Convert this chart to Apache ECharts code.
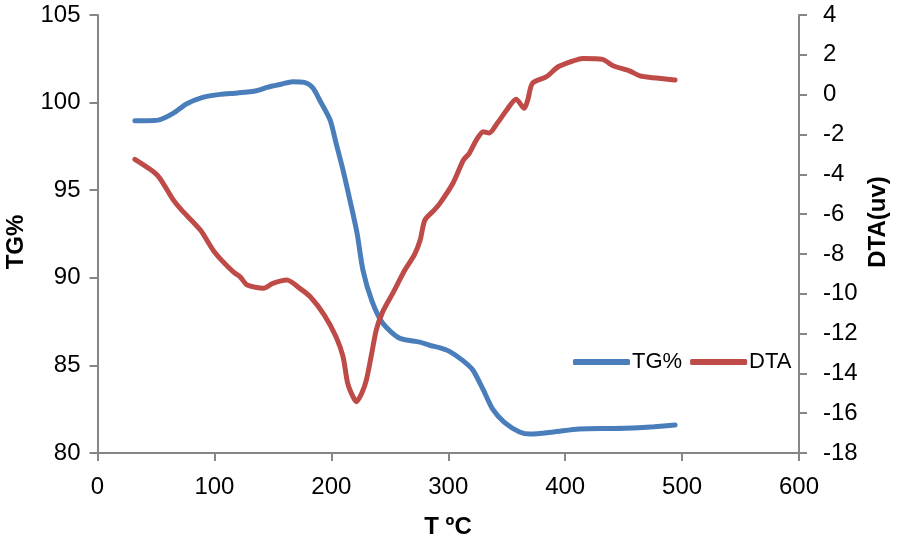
<!DOCTYPE html>
<html>
<head>
<meta charset="utf-8">
<script src="https://cdn.jsdelivr.net/npm/echarts@6/dist/echarts.min.js"></script>
<style>
html,body{margin:0;padding:0;background:#fff;}
#c{width:898px;height:547px;}
</style>
</head>
<body>
<div id="c"></div>
<script>
// TG% curve
var tgT = [32, 40, 52, 65, 76, 90, 105, 120, 136, 145, 157, 167, 177, 184, 190, 199, 204, 210, 216, 222, 227, 234.6, 244, 258.5, 275.6, 284, 293, 301, 312, 321, 330, 338, 348, 361, 370, 390, 412, 440, 458, 476, 494];
var tgV = [98.97, 98.97, 99.0, 99.4, 99.92, 100.3, 100.47, 100.55, 100.68, 100.87, 101.05, 101.19, 101.15, 100.85, 100.15, 99.0, 97.7, 96.15, 94.4, 92.55, 90.45, 88.7, 87.4, 86.55, 86.33, 86.15, 86.0, 85.8, 85.3, 84.74, 83.6, 82.5, 81.75, 81.2, 81.08, 81.2, 81.37, 81.4, 81.43, 81.5, 81.6];
// DTA curve
var dtaT = [32, 45, 51, 56, 65, 72, 88, 100, 116, 122, 128, 142, 150, 162, 173, 182, 194, 204, 210, 214, 218.5, 221.5, 226, 230, 234.6, 238.5, 244, 252.6, 263, 271, 276, 280, 288, 293, 304, 313, 318, 324, 330, 335, 342, 350, 358, 365, 368, 372, 384, 394, 407, 415, 432, 441, 455, 464, 475, 494];
var dtaV = [-3.25, -3.75, -4.04, -4.44, -5.3, -5.8, -6.8, -7.9, -8.9, -9.15, -9.56, -9.73, -9.48, -9.31, -9.73, -10.15, -11.07, -12.16, -13.16, -14.5, -15.17, -15.42, -15.0, -14.33, -12.98, -11.8, -10.9, -9.97, -8.8, -8.05, -7.3, -6.3, -5.8, -5.45, -4.45, -3.28, -2.95, -2.28, -1.86, -1.93, -1.43, -0.77, -0.23, -0.69, -0.27, 0.57, 0.9, 1.4, 1.7, 1.82, 1.77, 1.45, 1.19, 0.94, 0.85, 0.74];

var seriesNames = ['TG%', 'DTA'];
var xTitle = 'T ºC';
var yLeftTitle = 'TG%';
var yRightTitle = 'DTA(uv)';

function pairs(xs, ys){ return xs.map(function(x,i){ return [x, ys[i]]; }); }

var FONT = 'Liberation Sans';
var axisCol = '#868686';
var chart = echarts.init(document.getElementById('c'));
chart.setOption({
  animation: false,
  backgroundColor: '#fff',
  textStyle: {fontFamily: FONT},
  grid: {left: 97.5, right: 99, top: 15, bottom: 94},
  legend: {
    left: 568, top: 346,
    itemWidth: 57, itemHeight: 6, itemGap: 8,
    icon: 'roundRect',
    textStyle: {fontSize: 22, color: '#000', fontFamily: FONT, padding: [0,0,0,-3]},
    data: seriesNames
  },
  xAxis: {
    type: 'value', min: 0, max: 600, interval: 100,
    axisLine: {onZero: false, lineStyle: {color: axisCol, width: 2}},
    axisTick: {show: true, length: 8, lineStyle: {color: axisCol, width: 2}},
    axisLabel: {fontSize: 24, color: '#000', margin: 22, fontFamily: FONT},
    splitLine: {show: false}
  },
  yAxis: [{
    type: 'value', min: 80, max: 105, interval: 5,
    axisLine: {show: true, onZero: false, lineStyle: {color: axisCol, width: 2}},
    axisTick: {show: true, length: 8, lineStyle: {color: axisCol, width: 2}},
    axisLabel: {fontSize: 24, color: '#000', margin: 17, fontFamily: FONT},
    splitLine: {show: false}
  }, {
    type: 'value', min: -18, max: 4, interval: 2, position: 'right',
    axisLine: {show: true, onZero: false, lineStyle: {color: axisCol, width: 2}},
    axisTick: {show: true, length: 8, lineStyle: {color: axisCol, width: 2}},
    axisLabel: {fontSize: 24, color: '#000', margin: 24, fontFamily: FONT},
    splitLine: {show: false}
  }],
  graphic: [
    {type: 'text', x: 16, y: 242, rotation: Math.PI/2, style: {text: yLeftTitle, font: 'bold 24px "' + FONT + '"', fill: '#000', align: 'center', verticalAlign: 'middle'}},
    {type: 'text', x: 878, y: 222, rotation: Math.PI/2, style: {text: yRightTitle, font: 'bold 24px "' + FONT + '"', fill: '#000', align: 'center', verticalAlign: 'middle'}},
    {type: 'text', x: 448, y: 527, style: {text: xTitle, font: 'bold 24px "' + FONT + '"', fill: '#000', align: 'center', verticalAlign: 'middle'}}
  ],
  series: [{
    name: seriesNames[0], type: 'line', yAxisIndex: 0, smooth: 0.25, showSymbol: false,
    data: pairs(tgT, tgV),
    lineStyle: {color: '#4a7ebb', width: 5, cap: 'round'},
    itemStyle: {color: '#4a7ebb'}
  }, {
    name: seriesNames[1], type: 'line', yAxisIndex: 1, smooth: 0.25, showSymbol: false,
    data: pairs(dtaT, dtaV),
    lineStyle: {color: '#be4b48', width: 5, cap: 'round'},
    itemStyle: {color: '#be4b48'}
  }]
});
</script>
</body>
</html>
